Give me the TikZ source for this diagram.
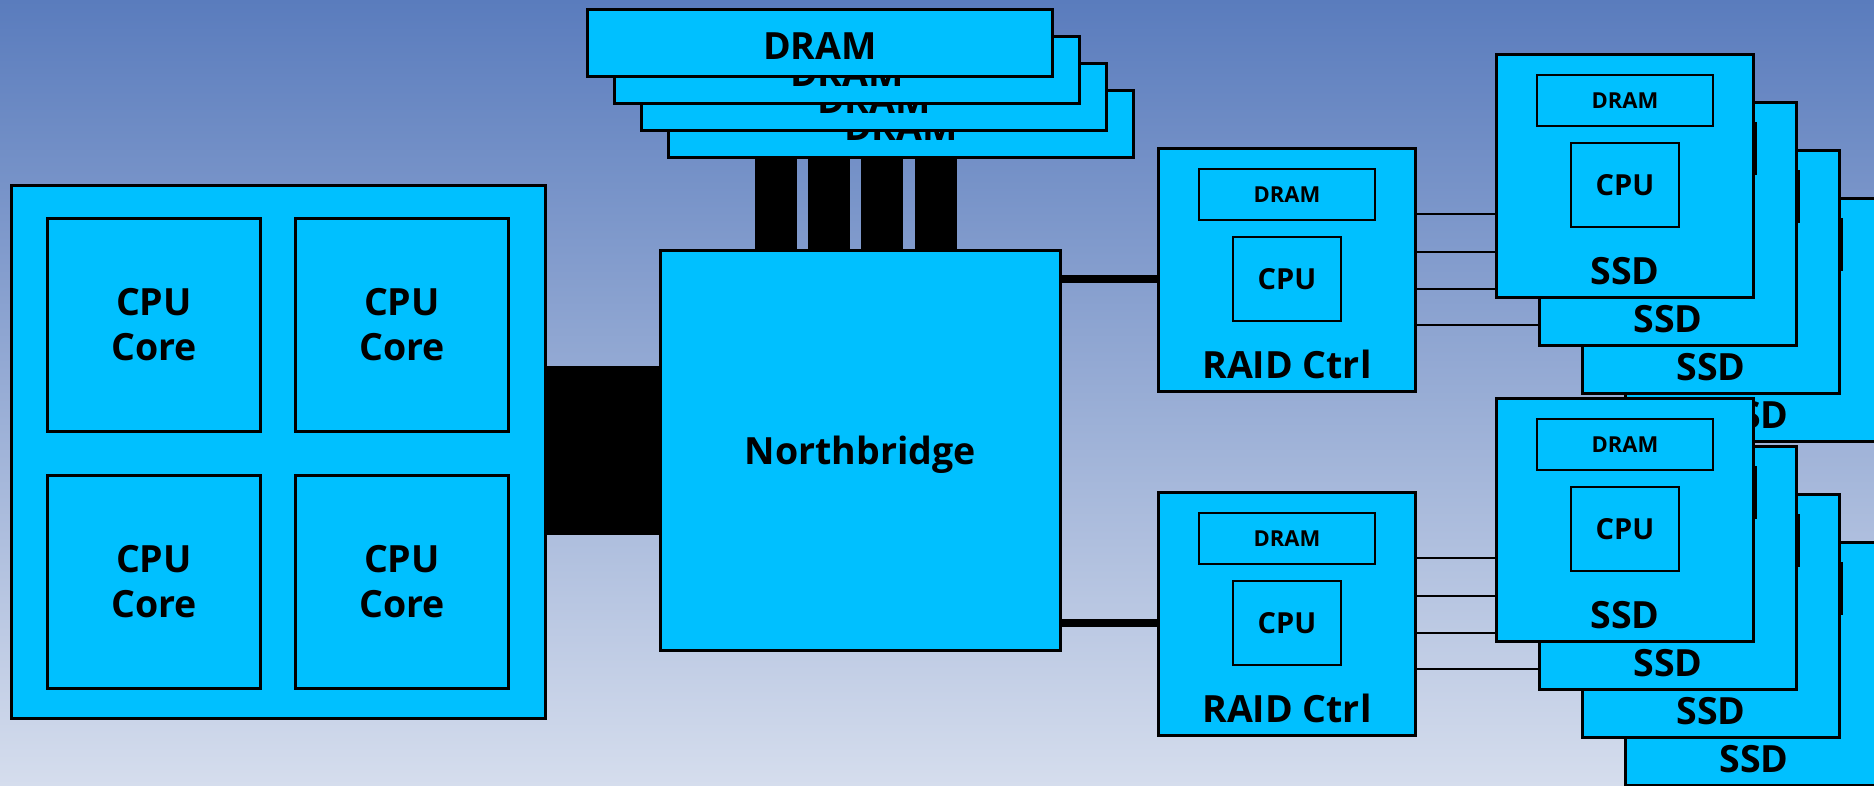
\documentclass[tikz,border=0pt]{standalone}
\usepackage{fontspec}
\setmainfont{Open Sans}
\usetikzlibrary{calc}
\definecolor{chip}{RGB}{0,192,255}
\definecolor{bgtop}{RGB}{90,124,189}
\definecolor{bgbot}{RGB}{213,221,237}
\pgfdeclarelayer{back}
\pgfdeclarelayer{wires}
\pgfsetlayers{back,wires,main}
\newcommand{\bigfont}{\fontsize{37.5}{45}\selectfont\bfseries}
\newcommand{\memfont}{\fontsize{22}{26}\selectfont\bfseries}
\newcommand{\cpufont}{\fontsize{29}{34}\selectfont\bfseries}
\tikzset{
  box/.style={draw, line width=2.8pt, fill=chip, inner sep=0pt},
  unit/.style={box, anchor=north west, minimum width=257pt, minimum height=243pt},
  stk/.style={box, anchor=north west, minimum width=465pt, minimum height=67pt},
  pkg/.style={box, anchor=north west, minimum width=534pt, minimum height=533pt},
  cor/.style={box, anchor=north west, minimum size=213pt, align=center, font=\bigfont},
  nbr/.style={box, anchor=north west, minimum size=400pt, font=\bigfont, text depth=0pt},
  memb/.style={box, minimum width=176pt, minimum height=51pt, font=\memfont},
  cpub/.style={box, minimum width=108pt, minimum height=84pt, font=\cpufont},
  lab/.style={font=\bigfont, inner sep=0pt, anchor=base},
  wir/.style={line width=2.8pt},
  lnk/.style={line width=8.5pt},
  fsb/.style={line width=169pt},
  mbar/.style={line width=42pt}
}
% one board: outline, dram, cpu, name
\newcommand{\board}[4]{%
  \node[unit] (#1) at ({#2},{#3}) {};
  \node[memb] (#1-dram) at ($(#1.north)+(0,47.5)$) {DRAM};
  \node[cpub] (#1-cpu) at ($(#1.north)+(0,132)$) {CPU};
  \node[lab] (#1-lbl) at ($(#1.south)+(0,-14)$) {#4};
}

\begin{document}
\begin{tikzpicture}[x=1pt, y=-1pt]
	\begin{pgfonlayer}{back}
		\shade[top color=bgtop, bottom color=bgbot] (0,0) rectangle (1874,785);
	\end{pgfonlayer}
	\useasboundingbox (0,0) rectangle (1874,785);
	\clip (0,0) rectangle (1874,785);
	% processor
	\node[pkg] (pkg) at (10,184) {};
	\node[cor] (core1) at (46,217) {CPU\\Core};
	\node[cor] (core2) at (294,217) {CPU\\Core};
	\node[cor] (core3) at (46,474) {CPU\\Core};
	\node[cor] (core4) at (294,474) {CPU\\Core};
	\node[nbr] (nb) at (659,249) {Northbridge};
	% memory sticks, back one first
	\foreach \k in {4,3,2,1} {
		\node[stk] (dram\k) at ({586+27*(\k-1)},{8+27*(\k-1)}) {};
		\node[lab] (dram\k-lbl) at ($(dram\k.north)+(0,51)$) {DRAM};
	}
	% controllers and disks
	\board{raidA}{1157}{147}{RAID Ctrl}
	\board{raidB}{1157}{491}{RAID Ctrl}
	\foreach \k in {4,3,2,1} {\board{ssdA\k}{1495+43*(\k-1)}{53+48*(\k-1)}{SSD}}
	\foreach \k in {4,3,2,1} {\board{ssdB\k}{1495+43*(\k-1)}{397+48*(\k-1)}{SSD}}
	% connections go behind the boxes
	\begin{pgfonlayer}{wires}
		\draw[fsb] (pkg |- nb) -- (nb);
		\foreach \bx in {776,829,882,936}
			\draw[mbar] (dram4 -| \bx,0) -- (nb -| \bx,0);
		\draw[lnk] (nb |- raidA-cpu) -- (raidA-cpu);
		\draw[lnk] (nb |- raidB-cpu) -- (raidB-cpu);
		\foreach \k/\dy in {1/67,2/105,3/142,4/178} {
			\coordinate (tapA\k) at ($(raidA.north)+(0,\dy)$);
			\coordinate (tapB\k) at ($(raidB.north)+(0,\dy)$);
			\draw[wir] (tapA\k) -- (tapA\k -| ssdA\k);
			\draw[wir] (tapB\k) -- (tapB\k -| ssdB\k);
		}
	\end{pgfonlayer}
\end{tikzpicture}
\end{document}
